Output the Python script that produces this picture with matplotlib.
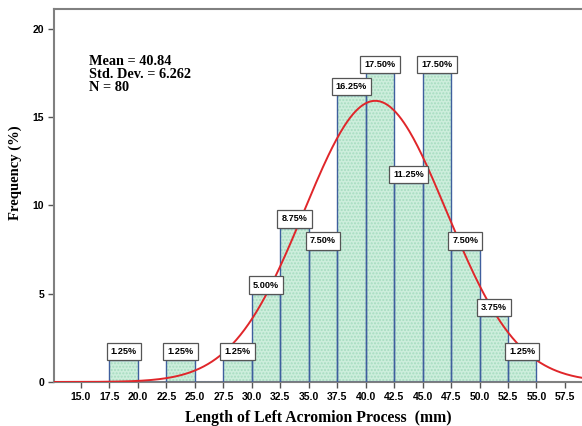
import numpy as np
import matplotlib
matplotlib.use("Agg")
import matplotlib.pyplot as plt

# histogram bins (left edges, mm) and percentages per bin
bin_left = [17.5, 20.0, 22.5, 25.0, 27.5, 30.0, 32.5, 35.0, 37.5, 40.0, 42.5, 45.0, 47.5, 50.0, 52.5]
percent = [1.25, 0, 1.25, 0, 1.25, 5.00, 8.75, 7.50, 16.25, 17.50, 11.25, 17.50, 7.50, 3.75, 1.25]
bin_width = 2.5
mean = 40.84
sd = 6.262
n = 80
xticks = [15.0, 17.5, 20.0, 22.5, 25.0, 27.5, 30.0, 32.5, 35.0, 37.5, 40.0, 42.5, 45.0, 47.5, 50.0, 52.5, 55.0, 57.5]
yticks = [0, 5, 10, 15, 20]

fig = plt.figure(figsize=(5.82, 4.26), dpi=100)
ax = fig.add_axes([0.0928, 0.1033, 0.9072, 0.8757])

centers = np.array(bin_left) + bin_width / 2
# fill with dotted pattern
ax.bar(centers, percent, width=bin_width, color="#cdeedc", edgecolor="#a6dcc0",
       hatch=".....", linewidth=0, zorder=2)
# outlines
ax.bar(centers, percent, width=bin_width, color="none", edgecolor="#3f5f9e",
       linewidth=1.0, zorder=3)

# fitted normal curve, scaled to percent per bin
xs = np.linspace(12.6, 60, 400)
ys = 100 * bin_width / (sd * np.sqrt(2 * np.pi)) * np.exp(-0.5 * ((xs - mean) / sd) ** 2)
ax.plot(xs, ys, color="#e0262a", lw=1.4, zorder=5)

fs = 6.6
pad = 0.45
for c, p in zip(centers, percent):
    if p == 0:
        continue
    ax.annotate(f"{p:.2f}%", xy=(c, p), xytext=(0, pad * fs), textcoords="offset points",
                ha="center", va="bottom", fontsize=fs, fontweight="bold",
                family="Liberation Sans", zorder=6,
                bbox=dict(boxstyle=f"square,pad={pad}", fc="white", ec="#555555", lw=0.9))

ax.set_xlim(12.63, 59.0)
ax.set_ylim(0, 21.13)
ax.set_xticks(xticks)
ax.set_xticklabels([f"{t:.1f}" for t in xticks])
ax.set_yticks(yticks)
for lab in ax.get_xticklabels() + ax.get_yticklabels():
    lab.set_fontfamily("Liberation Sans")
    lab.set_fontweight("bold")
    lab.set_fontsize(7.5)
ax.tick_params(direction="out", length=4, width=1, color="#555555", pad=3)

for side in ["left", "bottom", "top"]:
    ax.spines[side].set_color("#808080")
    ax.spines[side].set_linewidth(1.5)
ax.spines["right"].set_visible(False)

ax.set_xlabel("Length of Left Acromion Process  (mm)", family="Liberation Serif",
              fontweight="bold", fontsize=11.3, labelpad=6)
ax.set_ylabel("Frequency (%)", family="Liberation Serif", fontweight="bold",
              fontsize=10.5)
ax.yaxis.set_label_coords(-0.061, 0.56)

ax.text(0.066, 0.877, f"Mean = {mean}\nStd. Dev. = {sd}\nN = {n}",
        transform=ax.transAxes, va="top", ha="left", family="Liberation Serif",
        fontweight="bold", fontsize=10.3, linespacing=1.0)

fig.savefig("out.png", dpi=100)
